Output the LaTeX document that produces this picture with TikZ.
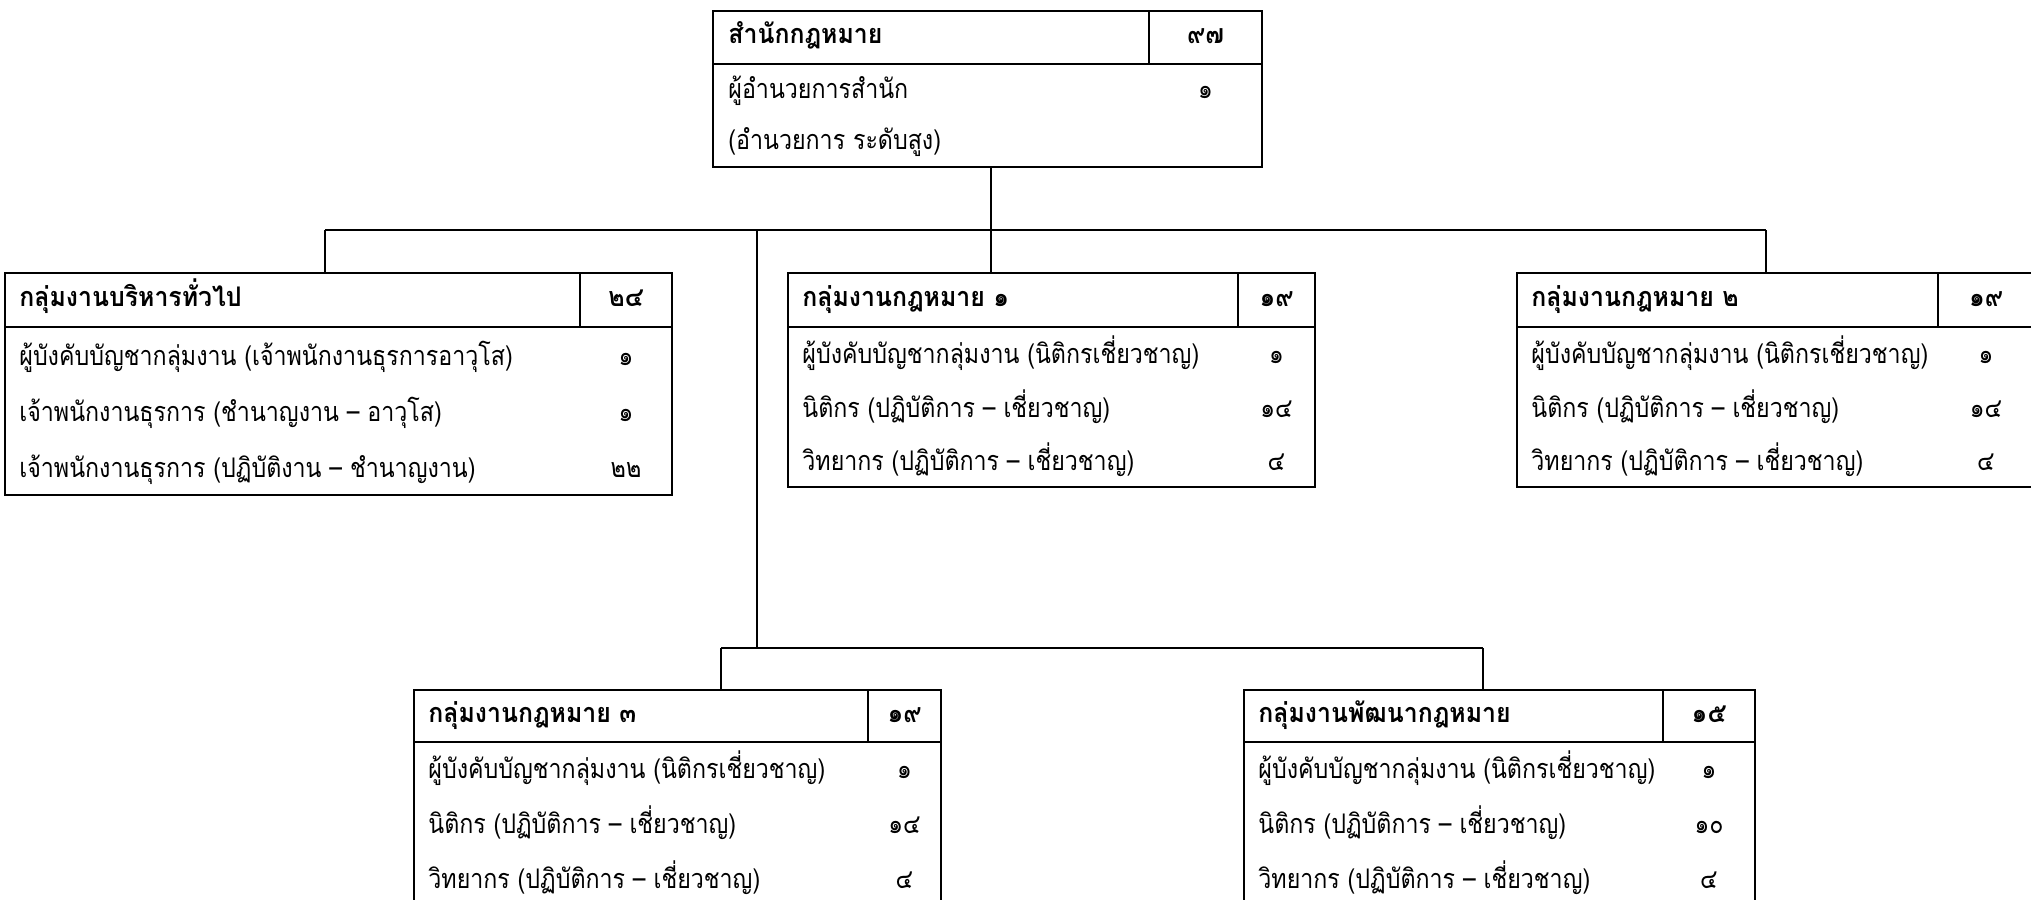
\documentclass[tikz,border=0pt]{standalone}
\usepackage{fontspec}
\newfontfamily\thai[Script=Thai,FakeStretch=0.86]{Loma}
\newfontfamily\thaihd[Script=Thai,FakeStretch=0.92]{Loma}
\begin{document}
\begin{tikzpicture}[line join=miter,
  cell/.style={draw,line width=1.4bp,inner sep=0pt},
  link/.style={draw,line width=1.3bp},
  hd/.style={anchor=mid west,inner sep=0pt,font=\thaihd\bfseries\fontsize{13.5bp}{15bp}\selectfont},
  hn/.style={anchor=mid,inner sep=0pt,font=\thaihd\bfseries\fontsize{13.5bp}{15bp}\selectfont},
  row/.style={anchor=mid west,inner sep=0pt,font=\thai\fontsize{13.5bp}{15bp}\selectfont},
  num/.style={anchor=mid,inner sep=0pt,font=\thai\fontsize{13.5bp}{15bp}\selectfont},]
\useasboundingbox (0,0) rectangle (1015.5bp,-450bp);
%%
\node (head_0) at (465.5bp,-18.75bp) [cell,minimum width=218bp,minimum height=26.5bp] {};
  \node (cnt_0) at (602.75bp,-18.75bp) [cell,minimum width=56.5bp,minimum height=26.5bp] {};
  \node (body_0) at (493.75bp,-57.75bp) [cell,minimum width=274.5bp,minimum height=51.5bp] {};
  \node (name_0) at (364bp,-19.5bp) [hd] {สำนักกฎหมาย};
  \node (sum_0) at (602.75bp,-19.5bp) [hn] {๙๗};
  \node (r_0_0) at (364bp,-47bp) [row] {ผู้อำนวยการสำนัก};
  \node (n_0_0) at (602.75bp,-47bp) [num] {๑};
  \node (r_0_1) at (364bp,-72.5bp) [row] {(อำนวยการ ระดับสูง)};
%
\node (head_1) at (146.25bp,-150bp) [cell,minimum width=287.5bp,minimum height=27bp] {};
  \node (cnt_1) at (313bp,-150bp) [cell,minimum width=46bp,minimum height=27bp] {};
  \node (body_1) at (169.25bp,-205.5bp) [cell,minimum width=333.5bp,minimum height=84bp] {};
  \node (name_1) at (9.5bp,-151bp) [hd] {กลุ่มงานบริหารทั่วไป};
  \node (sum_1) at (313bp,-151bp) [hn] {๒๔};
  \node (r_1_0) at (9.5bp,-180.5bp) [row] {ผู้บังคับบัญชากลุ่มงาน (เจ้าพนักงานธุรการอาวุโส)};
  \node (n_1_0) at (313bp,-180.5bp) [num] {๑};
  \node (r_1_1) at (9.5bp,-208.5bp) [row] {เจ้าพนักงานธุรการ (ชำนาญงาน – อาวุโส)};
  \node (n_1_1) at (313bp,-208.5bp) [num] {๑};
  \node (r_1_2) at (9.5bp,-236.5bp) [row] {เจ้าพนักงานธุรการ (ปฏิบัติงาน – ชำนาญงาน)};
  \node (n_1_2) at (313bp,-236.5bp) [num] {๒๒};
%
\node (head_2) at (506.5bp,-150bp) [cell,minimum width=225bp,minimum height=27bp] {};
  \node (cnt_2) at (638.25bp,-150bp) [cell,minimum width=38.5bp,minimum height=27bp] {};
  \node (body_2) at (525.75bp,-203.5bp) [cell,minimum width=263.5bp,minimum height=80bp] {};
  \node (name_2) at (401bp,-151bp) [hd] {กลุ่มงานกฎหมาย ๑};
  \node (sum_2) at (638.25bp,-151bp) [hn] {๑๙};
  \node (r_2_0) at (401bp,-179.8bp) [row] {ผู้บังคับบัญชากลุ่มงาน (นิติกรเชี่ยวชาญ)};
  \node (n_2_0) at (638.25bp,-179.8bp) [num] {๑};
  \node (r_2_1) at (401bp,-206.5bp) [row] {นิติกร (ปฏิบัติการ – เชี่ยวชาญ)};
  \node (n_2_1) at (638.25bp,-206.5bp) [num] {๑๔};
  \node (r_2_2) at (401bp,-233.2bp) [row] {วิทยากร (ปฏิบัติการ – เชี่ยวชาญ)};
  \node (n_2_2) at (638.25bp,-233.2bp) [num] {๔};
%
\node (head_3) at (863.75bp,-150bp) [cell,minimum width=210.5bp,minimum height=27bp] {};
  \node (cnt_3) at (993bp,-150bp) [cell,minimum width=48bp,minimum height=27bp] {};
  \node (body_3) at (887.75bp,-203.5bp) [cell,minimum width=258.5bp,minimum height=80bp] {};
  \node (name_3) at (765.5bp,-151bp) [hd] {กลุ่มงานกฎหมาย ๒};
  \node (sum_3) at (993bp,-151bp) [hn] {๑๙};
  \node (r_3_0) at (765.5bp,-179.8bp) [row] {ผู้บังคับบัญชากลุ่มงาน (นิติกรเชี่ยวชาญ)};
  \node (n_3_0) at (993bp,-179.8bp) [num] {๑};
  \node (r_3_1) at (765.5bp,-206.5bp) [row] {นิติกร (ปฏิบัติการ – เชี่ยวชาญ)};
  \node (n_3_1) at (993bp,-206.5bp) [num] {๑๔};
  \node (r_3_2) at (765.5bp,-233.2bp) [row] {วิทยากร (ปฏิบัติการ – เชี่ยวชาญ)};
  \node (n_3_2) at (993bp,-233.2bp) [num] {๔};
%
\node (head_4) at (320.5bp,-358bp) [cell,minimum width=227bp,minimum height=26bp] {};
  \node (cnt_4) at (452.25bp,-358bp) [cell,minimum width=36.5bp,minimum height=26bp] {};
  \node (body_4) at (338.75bp,-413.5bp) [cell,minimum width=263.5bp,minimum height=85bp] {};
  \node (name_4) at (214bp,-359bp) [hd] {กลุ่มงานกฎหมาย ๓};
  \node (sum_4) at (452.25bp,-359bp) [hn] {๑๙};
  \node (r_4_0) at (214bp,-387bp) [row] {ผู้บังคับบัญชากลุ่มงาน (นิติกรเชี่ยวชาญ)};
  \node (n_4_0) at (452.25bp,-387bp) [num] {๑};
  \node (r_4_1) at (214bp,-414.5bp) [row] {นิติกร (ปฏิบัติการ – เชี่ยวชาญ)};
  \node (n_4_1) at (452.25bp,-414.5bp) [num] {๑๔};
  \node (r_4_2) at (214bp,-442bp) [row] {วิทยากร (ปฏิบัติการ – เชี่ยวชาญ)};
  \node (n_4_2) at (452.25bp,-442bp) [num] {๔};
%
\node (head_5) at (726.75bp,-358bp) [cell,minimum width=209.5bp,minimum height=26bp] {};
  \node (cnt_5) at (854.5bp,-358bp) [cell,minimum width=46bp,minimum height=26bp] {};
  \node (body_5) at (749.75bp,-413.5bp) [cell,minimum width=255.5bp,minimum height=85bp] {};
  \node (name_5) at (629bp,-359bp) [hd] {กลุ่มงานพัฒนากฎหมาย};
  \node (sum_5) at (854.5bp,-359bp) [hn] {๑๕};
  \node (r_5_0) at (629bp,-387bp) [row] {ผู้บังคับบัญชากลุ่มงาน (นิติกรเชี่ยวชาญ)};
  \node (n_5_0) at (854.5bp,-387bp) [num] {๑};
  \node (r_5_1) at (629bp,-414.5bp) [row] {นิติกร (ปฏิบัติการ – เชี่ยวชาญ)};
  \node (n_5_1) at (854.5bp,-414.5bp) [num] {๑๐};
  \node (r_5_2) at (629bp,-442bp) [row] {วิทยากร (ปฏิบัติการ – เชี่ยวชาญ)};
  \node (n_5_2) at (854.5bp,-442bp) [num] {๔};
%
\coordinate (j_top) at (495.5bp,-115bp);
  \coordinate (j_l) at (162.5bp,-115bp);
  \coordinate (j_r) at (883bp,-115bp);
  \coordinate (j_mid) at (378.5bp,-115bp);
  \coordinate (j_bot) at (378.5bp,-324bp);
  \coordinate (j_bl) at (360.5bp,-324bp);
  \coordinate (j_br) at (741.5bp,-324bp);
  \draw [link] (body_0.south -| j_top) -- (j_top);
  \draw [link] (j_l) -- (j_r);
  \draw [link] (j_l) -- (j_l |- head_1.north);
  \draw [link] (j_top) -- (j_top |- head_2.north);
  \draw [link] (j_r) -- (j_r |- head_3.north);
  \draw [link] (j_mid) -- (j_bot);
  \draw [link] (j_bl) -- (j_br);
  \draw [link] (j_bl) -- (j_bl |- head_4.north);
  \draw [link] (j_br) -- (j_br |- head_5.north);
%
\end{tikzpicture}
\end{document}
